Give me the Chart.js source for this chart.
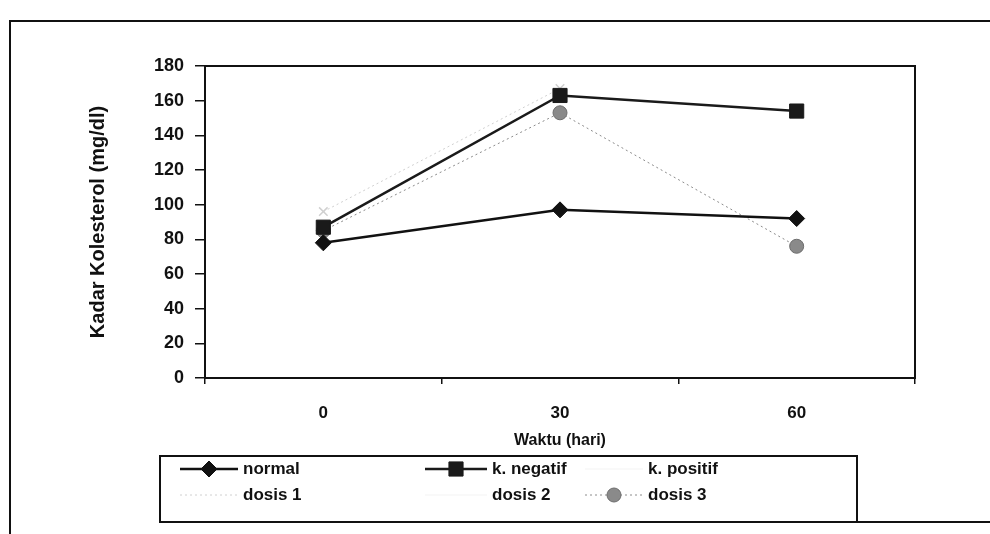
<!DOCTYPE html>
<html>
<head>
<meta charset="utf-8">
<script src="https://cdn.jsdelivr.net/npm/chart.js@4.4.0/dist/chart.umd.min.js"></script>
<style>
  html, body { margin: 0; padding: 0; background: #fff; }
  #wrap { width: 990px; height: 534px; }
</style>
</head>
<body>
<div id="wrap"><canvas id="myChart" width="990" height="534"></canvas></div>
<script>
// data
var categories = ["0", "30", "60"];
var yTicks = [0, 20, 40, 60, 80, 100, 120, 140, 160, 180];
var seriesNames = ["normal", "k. negatif", "k. positif", "dosis 1", "dosis 2", "dosis 3"];
var normal = [78, 97, 92];
var kNegatif = [87, 163, 154];
var kPositif = [null, null, null];   // not visible in the scan
var dosis1 = [96, 167, null];        // only a faint trace visible
var dosis2 = [null, null, null];     // not visible in the scan
var dosis3 = [85, 153, 76];

var FONT = "'Liberation Sans', Arial, sans-serif";

var styles = [
  { color: "#111", width: 2.5, dash: [], point: "rectRot", radius: 8, fill: "#111" },
  { color: "#1a1a1a", width: 2.5, dash: [], point: "rect", radius: 10, fill: "#1a1a1a" },
  { color: "#f3f3f3", width: 1, dash: [], point: "triangle", radius: 6, fill: "#f3f3f3" },
  { color: "#d0d0d0", width: 1, dash: [2, 3], point: "crossRot", radius: 6, fill: "#d0d0d0" },
  { color: "#f3f3f3", width: 1, dash: [], point: "star", radius: 6, fill: "#f3f3f3" },
  { color: "#8c8c8c", width: 1, dash: [2, 3], point: "circle", radius: 7, fill: "#8a8a8a" }
];
var values = [normal, kNegatif, kPositif, dosis1, dosis2, dosis3];

var datasets = seriesNames.map(function (name, i) {
  var s = styles[i];
  return {
    label: name,
    data: values[i],
    borderColor: s.color,
    backgroundColor: s.fill,
    borderWidth: s.width,
    borderDash: s.dash,
    pointStyle: s.point,
    pointRadius: s.radius,
    pointBorderColor: s.point === "circle" ? "#6e6e6e" : s.fill,
    pointBackgroundColor: s.fill,
    pointBorderWidth: s.point === "crossRot" ? 1.5 : 1,
    tension: 0,
    spanGaps: false
  };
});

// marker drawn by hand for the legend
function drawMarker(ctx, s, x, y) {
  var r = s.radius;
  ctx.save();
  ctx.fillStyle = s.fill;
  ctx.strokeStyle = s.point === "circle" ? "#6e6e6e" : s.fill;
  ctx.lineWidth = 1;
  ctx.setLineDash([]);
  ctx.beginPath();
  if (s.point === "rectRot") {
    ctx.moveTo(x, y - r); ctx.lineTo(x + r, y); ctx.lineTo(x, y + r); ctx.lineTo(x - r, y); ctx.closePath();
  } else if (s.point === "rect") {
    var h = r * Math.SQRT1_2;
    ctx.rect(x - h, y - h, 2 * h, 2 * h);
  } else if (s.point === "circle") {
    ctx.arc(x, y, r, 0, Math.PI * 2);
  } else {
    ctx.restore();
    return;
  }
  ctx.fill();
  ctx.stroke();
  ctx.restore();
}

var framePlugin = {
  id: "frame",
  beforeDraw: function (chart) {
    var ctx = chart.ctx;
    ctx.save();
    ctx.fillStyle = "#fff";
    ctx.fillRect(0, 0, chart.width, chart.height);
    ctx.restore();
  },
  afterDraw: function (chart) {
    var ctx = chart.ctx, a = chart.chartArea;
    ctx.save();
    ctx.strokeStyle = "#111";
    ctx.lineWidth = 2;
    ctx.strokeRect(a.left, a.top, a.right - a.left, a.bottom - a.top);

    // outer border of the chart object
    ctx.beginPath();
    ctx.moveTo(10, 534); ctx.lineTo(10, 21); ctx.lineTo(990, 21);
    ctx.stroke();
    ctx.beginPath();
    ctx.moveTo(857, 522); ctx.lineTo(990, 522);
    ctx.stroke();

    // legend box, 3 columns x 2 rows
    ctx.strokeRect(160, 456, 697, 66);
    var colLine = [180, 425, 585];
    var colText = [243, 492, 648];
    var rowY = [469, 495];
    ctx.font = "bold 17px " + FONT;
    ctx.textBaseline = "middle";
    ctx.textAlign = "left";
    chart.data.datasets.forEach(function (ds, i) {
      var s = styles[i];
      var col = i % 3, row = Math.floor(i / 3);
      var x0 = colLine[col], x1 = colText[col] - 5, y = rowY[row];
      ctx.save();
      ctx.strokeStyle = s.color;
      ctx.lineWidth = s.width;
      ctx.setLineDash(s.dash);
      ctx.beginPath();
      ctx.moveTo(x0, y); ctx.lineTo(x1, y);
      ctx.stroke();
      ctx.restore();
      drawMarker(ctx, s, (x0 + x1) / 2, y);
      ctx.fillStyle = "#111";
      ctx.fillText(ds.label, colText[col], y);
    });
    ctx.restore();
  }
};

var ctx = document.getElementById("myChart").getContext("2d");
var myChart = new Chart(ctx, {
  type: "line",
  data: {
    labels: categories,
    datasets: datasets
  },
  plugins: [framePlugin],
  options: {
    responsive: false,
    animation: false,
    layout: { padding: { left: 86, right: 75, top: 66, bottom: 84 } },
    plugins: {
      legend: { display: false },
      tooltip: { enabled: false }
    },
    scales: {
      x: {
        type: "category",
        offset: true,
        grid: { offset: true, drawOnChartArea: false, drawTicks: true, tickLength: 6, color: "#111", lineWidth: 1.5 },
        border: { display: true, color: "#111", width: 2 },
        ticks: { padding: 19, color: "#111", font: { family: FONT, size: 17, weight: "bold" } },
        title: {
          display: true,
          text: "Waktu (hari)",
          color: "#111",
          font: { family: FONT, size: 16, weight: "bold" },
          padding: { top: 4, bottom: 0 }
        },
        afterFit: function (scale) { scale.height = 72; }
      },
      y: {
        min: 0,
        max: 180,
        afterBuildTicks: function (scale) {
          scale.ticks = yTicks.map(function (v) { return { value: v }; });
        },
        grid: { drawOnChartArea: false, drawTicks: true, tickLength: 10, color: "#111", lineWidth: 1.5 },
        border: { display: true, color: "#111", width: 2 },
        ticks: { padding: 11, color: "#111", font: { family: FONT, size: 18, weight: "bold" } },
        title: {
          display: true,
          text: "Kadar Kolesterol (mg/dl)",
          color: "#111",
          font: { family: FONT, size: 20, weight: "bold" },
          padding: { top: 0, bottom: 0 }
        },
        afterFit: function (scale) { scale.width = 119; }
      }
    }
  }
});
</script>
</body>
</html>
